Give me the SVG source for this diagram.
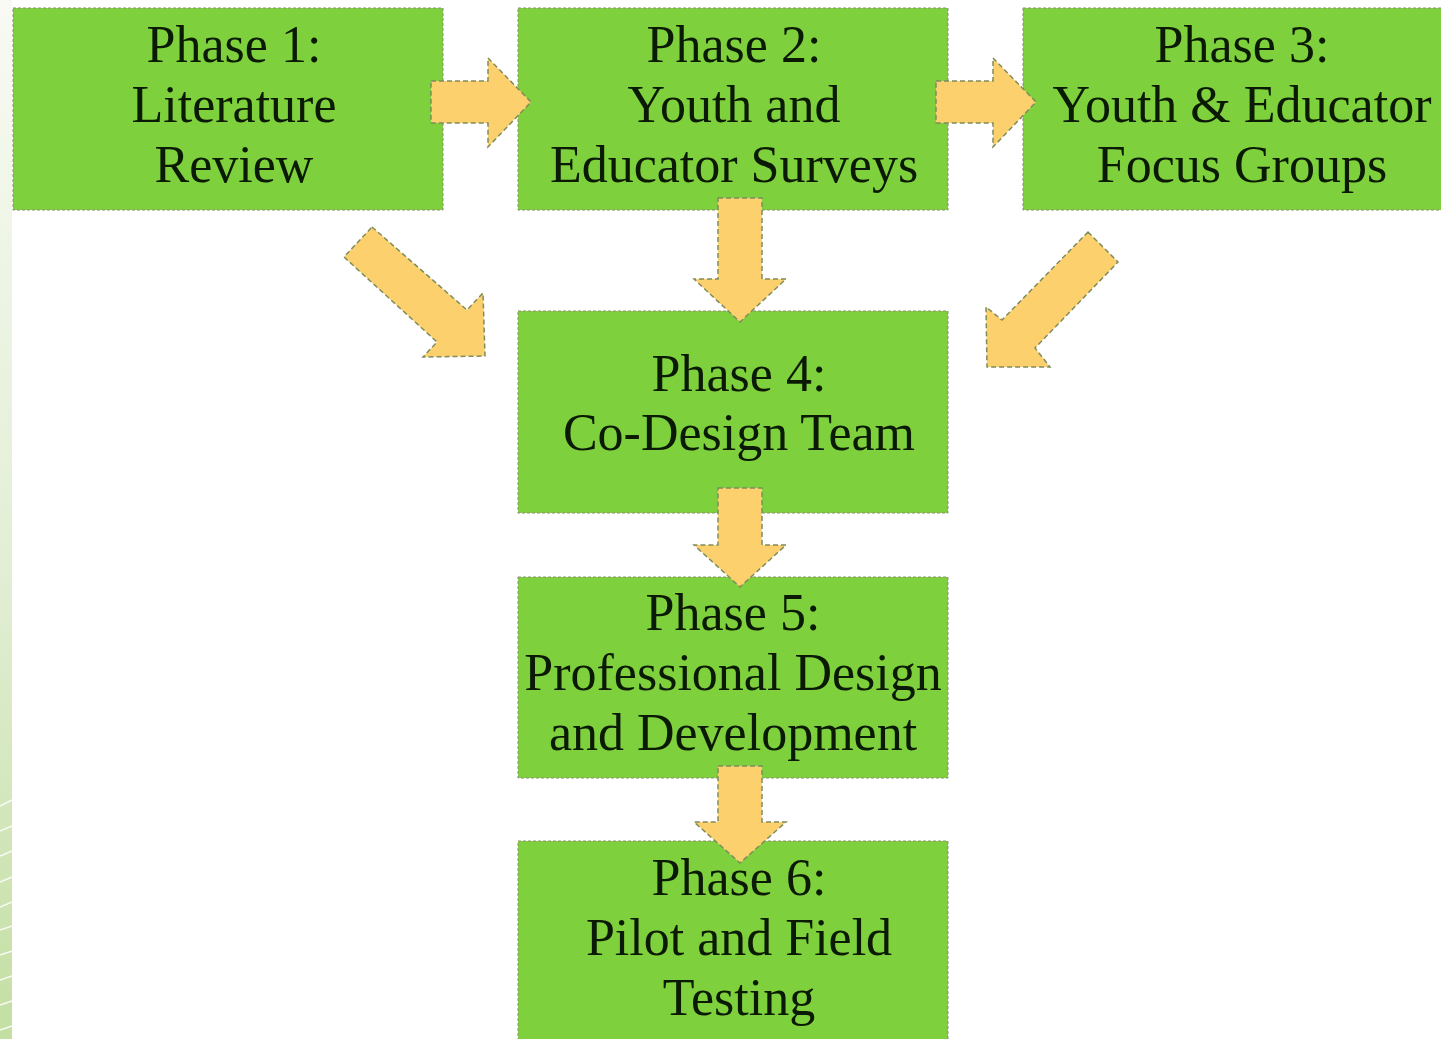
<svg xmlns="http://www.w3.org/2000/svg" width="1441" height="1039" viewBox="0 0 1441 1039">
  <defs>
    <linearGradient id="edgeGrad" x1="0" y1="0" x2="0" y2="1">
      <stop offset="0" stop-color="#f8faf3"/>
      <stop offset="0.55" stop-color="#e2eed5"/>
      <stop offset="1" stop-color="#c3dfa2"/>
    </linearGradient>
    <style>
      .box { fill: #7ed03c; stroke: #8c8f72; stroke-width: 1; stroke-dasharray: 3 2; }
      .lbl { font-family: "Liberation Serif", "DejaVu Serif", serif; font-size: 52px; fill: #0b1a05; text-anchor: middle; }
      .arrow { fill: #fdd06e; stroke: #7f8c5c; stroke-width: 1.5; stroke-dasharray: 5 3; stroke-linejoin: miter; }
      .stripe { stroke: #ffffff; stroke-width: 1.5; opacity: 0.85; }
    </style>
  </defs>

  <!-- page background -->
  <rect x="0" y="0" width="1441" height="1039" fill="#ffffff"/>

  <!-- decorative left edge band -->
  <g id="edge-band">
    <rect x="0" y="0" width="12" height="1039" fill="url(#edgeGrad)"/>
    <line class="stripe" x1="0" y1="806" x2="12" y2="800"/>
    <line class="stripe" x1="0" y1="831" x2="12" y2="826"/>
    <line class="stripe" x1="0" y1="856" x2="12" y2="851"/>
    <line class="stripe" x1="0" y1="882" x2="12" y2="877"/>
    <line class="stripe" x1="0" y1="907" x2="12" y2="902"/>
    <line class="stripe" x1="0" y1="930" x2="12" y2="926"/>
    <line class="stripe" x1="0" y1="955" x2="12" y2="951"/>
    <line class="stripe" x1="0" y1="980" x2="12" y2="976"/>
    <line class="stripe" x1="0" y1="1005" x2="12" y2="1001"/>
    <line class="stripe" x1="0" y1="1030" x2="12" y2="1026"/>
  </g>

  <!-- phase boxes -->
  <g id="phase1">
    <rect class="box" x="13" y="8" width="430" height="202"/>
    <text class="lbl" x="234" y="62">Phase 1:</text>
    <text class="lbl" x="234" y="122">Literature</text>
    <text class="lbl" x="234" y="182">Review</text>
  </g>
  <g id="phase2">
    <rect class="box" x="518" y="8" width="430" height="202"/>
    <text class="lbl" x="734" y="62">Phase 2:</text>
    <text class="lbl" x="734" y="122">Youth and</text>
    <text class="lbl" x="734" y="182">Educator Surveys</text>
  </g>
  <g id="phase3">
    <rect class="box" x="1023" y="8" width="432" height="202"/>
    <text class="lbl" x="1242" y="62">Phase 3:</text>
    <text class="lbl" x="1242" y="122">Youth &amp; Educator</text>
    <text class="lbl" x="1242" y="182">Focus Groups</text>
  </g>
  <g id="phase4">
    <rect class="box" x="518" y="311" width="430" height="202"/>
    <text class="lbl" x="739" y="391">Phase 4:</text>
    <text class="lbl" x="739" y="450">Co-Design Team</text>
  </g>
  <g id="phase5">
    <rect class="box" x="518" y="577" width="430" height="201"/>
    <text class="lbl" x="733" y="630">Phase 5:</text>
    <text class="lbl" x="733" y="690">Professional Design</text>
    <text class="lbl" x="733" y="750">and Development</text>
  </g>
  <g id="phase6">
    <rect class="box" x="518" y="841" width="430" height="210"/>
    <text class="lbl" x="739" y="895">Phase 6:</text>
    <text class="lbl" x="739" y="955">Pilot and Field</text>
    <text class="lbl" x="739" y="1015">Testing</text>
  </g>

  <!-- block arrows between phases -->
  <g id="connectors">
    <polygon class="arrow" points="431,81 488,81 488,58 531,102 488,147 488,123 431,123"/>
    <polygon class="arrow" points="936,81 993,81 993,58 1036,102 993,147 993,123 936,123"/>
    <polygon class="arrow" points="718,198 762,198 762,279 786,279 740,322 694,279 718,279"/>
    <polygon class="arrow" points="718,488 762,488 762,545 786,545 740,587 694,545 718,545"/>
    <polygon class="arrow" points="718,766 762,766 762,822 786,822 740,863 694,822 718,822"/>
    <polygon class="arrow" points="372,227 467,310 483,293 485,356 423,357 437,342 344,257"/>
    <polygon class="arrow" points="1088,232 1118,262 1035,348 1050,367 987,367 986,307 1002,320"/>
  </g>
</svg>
